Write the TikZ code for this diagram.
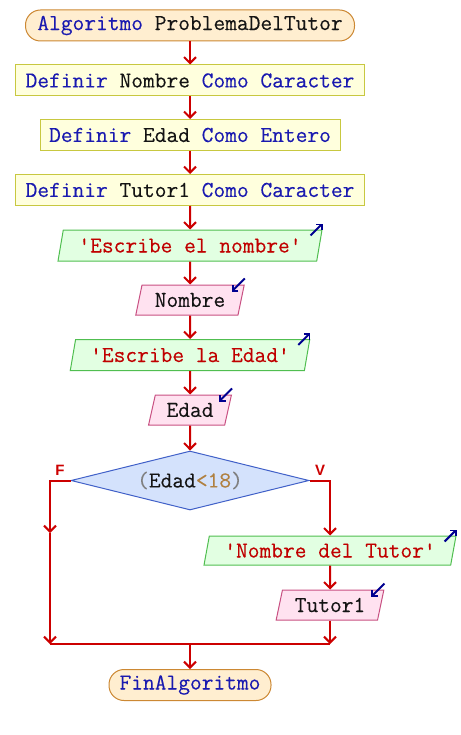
\documentclass[tikz,border=0pt]{standalone}
\usepackage{fontspec}
\newfontfamily\lblfont{Liberation Sans}
\newfontfamily\psfont{Latin Modern Mono}[FakeBold=0.25]
\usetikzlibrary{arrows.meta,shapes.geometric,calc}
\definecolor{psred}{RGB}{204,0,0}
\definecolor{pskey}{RGB}{26,26,176}
\definecolor{psvar}{RGB}{20,20,20}
\definecolor{psstr}{RGB}{192,0,0}
\definecolor{psnum}{RGB}{176,128,64}
\definecolor{psicon}{RGB}{0,0,144}
\definecolor{termfill}{RGB}{255,238,208}
\definecolor{termdraw}{RGB}{204,136,51}
\definecolor{deffill}{RGB}{255,255,221}
\definecolor{defdraw}{RGB}{200,200,64}
\definecolor{wrfill}{RGB}{226,255,226}
\definecolor{wrdraw}{RGB}{80,190,80}
\definecolor{rdfill}{RGB}{255,226,240}
\definecolor{rddraw}{RGB}{200,80,130}
\definecolor{cdfill}{RGB}{212,226,252}
\definecolor{cddraw}{RGB}{64,96,200}
\tikzset{
  terminal/.style={draw=termdraw, fill=termfill, rounded corners=15pt, minimum height=31pt, inner sep=0pt, line width=1pt},
  defbox/.style={draw=defdraw, fill=deffill, minimum height=31pt, inner sep=0pt, line width=1pt},
  writebox/.style={trapezium, trapezium left angle=72, trapezium right angle=108, trapezium stretches=true, draw=wrdraw, fill=wrfill, minimum height=31pt, inner sep=0pt, line width=1pt},
  readbox/.style={trapezium, trapezium left angle=72, trapezium right angle=108, trapezium stretches=true, draw=rddraw, fill=rdfill, minimum height=30pt, inner sep=0pt, line width=1pt},
  decision/.style={diamond, shape aspect=4.03, draw=cddraw, fill=cdfill, minimum width=238pt, minimum height=59pt, inner sep=0pt, line width=1pt},
  arrow/.style={-{Straight Barb[length=6pt,width=12pt,line width=2pt]}, psred, line width=2pt},
  mergeline/.style={psred, line width=2pt},
  iconout/.style={-{Straight Barb[length=4pt,width=8pt,line width=1.8pt]}, psicon, line width=2pt},
  branch/.style={text=psred, font=\lblfont\bfseries\fontsize{15}{16}\selectfont}
}
\newcommand{\kw}[1]{\textcolor{pskey}{#1}}
\newcommand{\vr}[1]{\textcolor{psvar}{#1}}
\newcommand{\st}[1]{\textcolor{psstr}{\textquotesingle#1\textquotesingle}}

\begin{document}
\begin{tikzpicture}[x=1pt,y=-1pt, font=\psfont\fontsize{22.8}{24}\selectfont]
    \useasboundingbox (0,0) rectangle (460,735);
    \node[terminal, minimum width=329pt] (start) at (190,25.5) {\kw{Algoritmo} \vr{ProblemaDelTutor}};
    \node[defbox, minimum width=349pt] (def1) at (190,80.5) {\kw{Definir} \vr{Nombre} \kw{Como} \kw{Caracter}};
    \node[defbox, minimum width=300pt] (def2) at (190,135) {\kw{Definir} \vr{Edad} \kw{Como} \kw{Entero}};
    \node[defbox, minimum width=349pt] (def3) at (190,190) {\kw{Definir} \vr{Tutor1} \kw{Como} \kw{Caracter}};
    \node[writebox, minimum width=264pt] (wr1) at (190,245.5) {\st{Escribe el nombre}};
    \node[readbox, minimum width=109pt] (rd1) at (190,300) {\vr{Nombre}};
    \node[writebox, minimum width=240pt] (wr2) at (190,355) {\st{Escribe la Edad}};
    \node[readbox, minimum width=83pt] (rd2) at (190,410) {\vr{Edad}};
    \node[decision] (cond) at (190,480.5) {\textcolor{gray}{(}\vr{Edad}\textcolor{psnum}{<18}\textcolor{gray}{)}};
    \node[writebox, minimum width=252pt, minimum height=29pt] (wr3) at (330,550.5) {\st{Nombre del Tutor}};
    \node[readbox, minimum width=108pt] (rd3) at (330,605) {\vr{Tutor1}};
    \node[terminal, minimum width=162pt] (fin) at (190,685) {\kw{FinAlgoritmo}};
    \node[branch] (lf) at (60,470) {F};
    \node[branch] (lv) at (320,470) {V};
    \coordinate (fmid) at (50,533);
    \coordinate (fend) at (50,644);
    \coordinate (vend) at (330,644);
    \coordinate (merge) at (190,644);

    % main column
    \draw[arrow] (start) -- (def1);
    \draw[arrow] (def1) -- (def2);
    \draw[arrow] (def2) -- (def3);
    \draw[arrow] (def3) -- (wr1);
    \draw[arrow] (wr1) -- (rd1);
    \draw[arrow] (rd1) -- (wr2);
    \draw[arrow] (wr2) -- (rd2);
    \draw[arrow] (rd2) -- (cond);
    % branches
    \draw[arrow] (cond.west) -| (fmid);
    \draw[arrow] (fmid) -- (fend);
    \draw[arrow] (cond.east) -| (wr3.north);
    \draw[arrow] (wr3) -- (rd3);
    \draw[arrow] (rd3) -- (vend);
    \draw[mergeline] (fend) -- (vend);
    \draw[arrow] (merge) -- (fin);

    % io marks
    \foreach \w in {wr1,wr2,wr3}
      \draw[iconout] ([shift={(-12,6)}]\w.top right corner) -- ([shift={(0,-6)}]\w.top right corner);
    \foreach \r in {rd1,rd2,rd3}
      \draw[iconout] ([shift={(0,-6)}]\r.top right corner) -- ([shift={(-13,7)}]\r.top right corner);
  \end{tikzpicture}
\end{document}
